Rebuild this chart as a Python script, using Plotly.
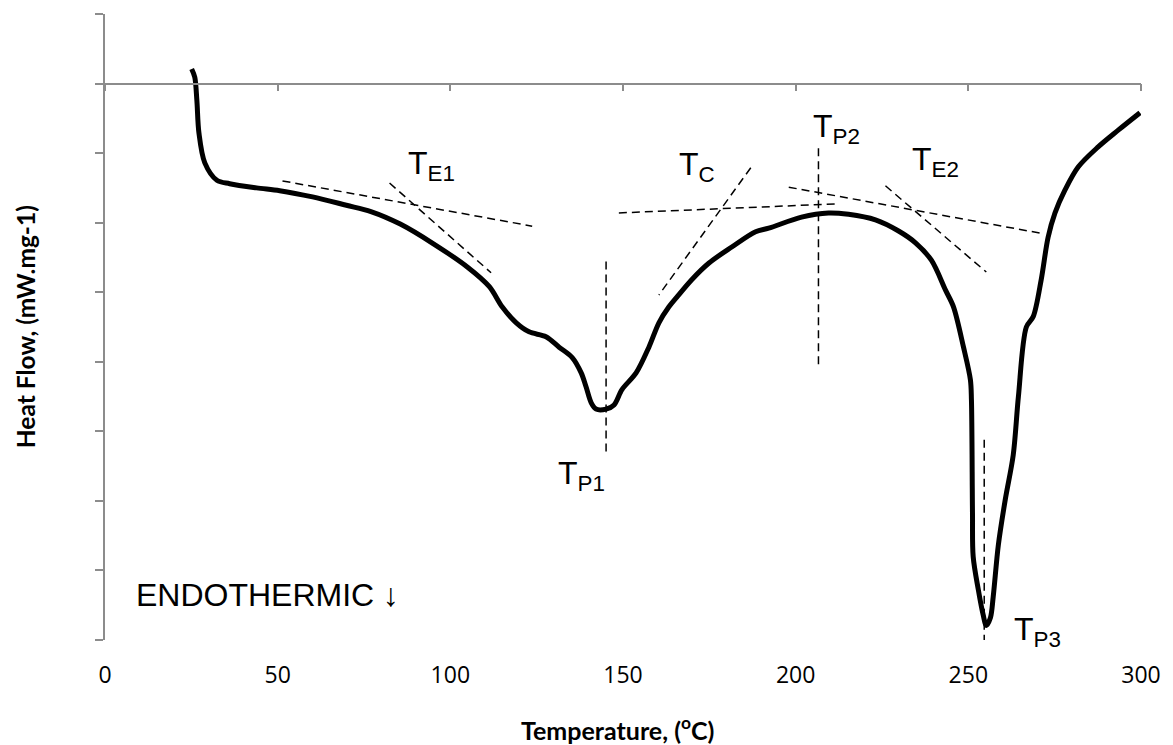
import plotly.graph_objects as go

# ---- DSC curve (Temperature °C, Heat flow mW/mg) ----
temp = [25.1, 26.0, 26.6, 27.2, 28.9, 32.4, 36.1, 43.9, 50.6, 60.1, 69.9, 77.0, 85.5, 95.0,
        105.0, 111.3, 115.0, 119.1, 122.8, 127.7, 131.5, 135.3, 137.9, 139.3, 140.8, 142.2,
        145.1, 147.4, 149.7, 153.8, 157.5, 160.4, 163.3, 165.6, 169.9, 174.9, 181.5, 188.4,
        192.2, 201.7, 209.5, 215.3, 223.1, 229.8, 234.7, 239.3, 243.4, 245.7, 248.6, 250.6,
        250.9, 251.2, 251.4, 252.9, 254.3, 255.2, 256.4, 257.2, 258.7, 260.7, 263.0, 264.5,
        266.8, 268.8, 271.1, 273.1, 275.1, 278.0, 281.8, 287.6, 293.4, 299.7]
heat = [0.21, 0.09, -0.24, -0.71, -1.14, -1.39, -1.44, -1.50, -1.54, -1.63, -1.75, -1.84, -2.02, -2.30,
        -2.64, -2.92, -3.21, -3.44, -3.57, -3.64, -3.79, -3.94, -4.16, -4.36, -4.59, -4.68,
        -4.68, -4.62, -4.40, -4.16, -3.79, -3.44, -3.21, -3.07, -2.82, -2.58, -2.35, -2.13,
        -2.08, -1.92, -1.86, -1.88, -1.96, -2.12, -2.29, -2.54, -2.97, -3.21, -3.79, -4.26,
        -4.55, -6.17, -6.80, -7.28, -7.64, -7.79, -7.68, -7.38, -6.63, -5.98, -5.34, -4.50,
        -3.50, -3.35, -2.82, -2.21, -1.86, -1.53, -1.20, -0.91, -0.67, -0.42]

# ---- construction (tangent / peak) lines: [x0, x1], [y0, y1] ----
guide_lines = {
    "TE1_base":  ([51.4, 123.7], [-1.40, -2.05]),
    "TE1_slope": ([82.4, 111.8], [-1.43, -2.72]),
    "TP1":       ([145.1, 145.1], [-2.56, -5.30]),
    "TC_base":   ([148.8, 211.6], [-1.86, -1.73]),
    "TC_slope":  ([187.0, 160.4], [-1.21, -3.04]),
    "TP2":       ([206.6, 206.6], [-0.93, -4.04]),
    "TE2_base":  ([198.0, 270.8], [-1.49, -2.15]),
    "TE2_slope": ([226.0, 255.2], [-1.47, -2.71]),
    "TP3":       ([254.6, 254.6], [-5.12, -8.24]),
}

# ---- labels: (text, x, y of cap top) ----
labels = [
    ("T<sub>E1</sub>", 87.3, -0.98),
    ("T<sub>C</sub>", 165.6, -1.00),
    ("T<sub>P2</sub>", 204.3, -0.45),
    ("T<sub>E2</sub>", 233.2, -0.93),
    ("T<sub>P1</sub>", 130.6, -5.44),
    ("T<sub>P3</sub>", 262.5, -7.68),
    ("ENDOTHERMIC ↓", 8.5, -7.19),
]

x_ticks = [0, 50, 100, 150, 200, 250, 300]
y_ticks = [1, 0, -1, -2, -3, -4, -5, -6, -7, -8]

fig = go.Figure()
for name, (gx, gy) in guide_lines.items():
    fig.add_trace(go.Scatter(x=gx, y=gy, mode="lines", name=name,
                             line=dict(color="black", width=1.5, dash="8px,5px"),
                             hoverinfo="skip", showlegend=False))
fig.add_trace(go.Scatter(x=temp, y=heat, mode="lines", name="DSC",
                         line=dict(color="black", width=5, shape="spline", smoothing=0.9),
                         showlegend=False))
# carrier trace so the zero-crossing axis (x2) is drawn
fig.add_trace(go.Scatter(x=[x_ticks[0], x_ticks[-1]], y=[None, None], xaxis="x2",
                         mode="lines", hoverinfo="skip", showlegend=False))

for text, lx, ly in labels:
    fig.add_annotation(x=lx, y=ly, xref="x", yref="y", text=text, showarrow=False,
                       xanchor="left", yanchor="top", yshift=9,
                       font=dict(family="Liberation Sans, Arial", size=32, color="black"))

axis_grey = "#8c8c8c"
fig.update_layout(
    width=1173, height=745,
    margin=dict(l=105, r=30, t=14, b=105),
    plot_bgcolor="white", paper_bgcolor="white",
    xaxis=dict(range=[0, 300], tickvals=x_ticks, ticktext=[str(v) for v in x_ticks],
               showline=False, showgrid=False, zeroline=False,
               ticks="outside", ticklen=14, tickcolor="rgba(0,0,0,0)",
               tickfont=dict(family="Open Sans", size=23, color="black")),
    xaxis2=dict(range=[0, 300], overlaying="x", anchor="free", position=8/9,
                tickvals=x_ticks, showticklabels=False, showline=True,
                linecolor=axis_grey, linewidth=1.5, ticks="outside", ticklen=7,
                tickcolor=axis_grey, tickwidth=1.5, showgrid=False, zeroline=False),
    yaxis=dict(range=[-8, 1], tickvals=y_ticks, showticklabels=False, showline=True,
               linecolor=axis_grey, linewidth=1.5, ticks="outside", ticklen=8,
               tickcolor=axis_grey, tickwidth=1.5, showgrid=False, zeroline=False),
)

fig.add_annotation(xref="paper", yref="paper", x=(618 - 105) / 1038, y=-(728 - 640) / 626,
                   text="Temperature, (<sup>o</sup>C)", showarrow=False,
                   xanchor="center", yanchor="middle",
                   font=dict(family="Lato", size=25, color="black", weight="bold"))
fig.add_annotation(xref="paper", yref="paper", x=-(105 - 25) / 1038, y=0.5,
                   text="Heat Flow, (mW.mg-1)", showarrow=False, textangle=-90,
                   xanchor="center", yanchor="middle",
                   font=dict(family="Lato", size=24.5, color="black", weight="bold"))

fig.write_html("out.html")
